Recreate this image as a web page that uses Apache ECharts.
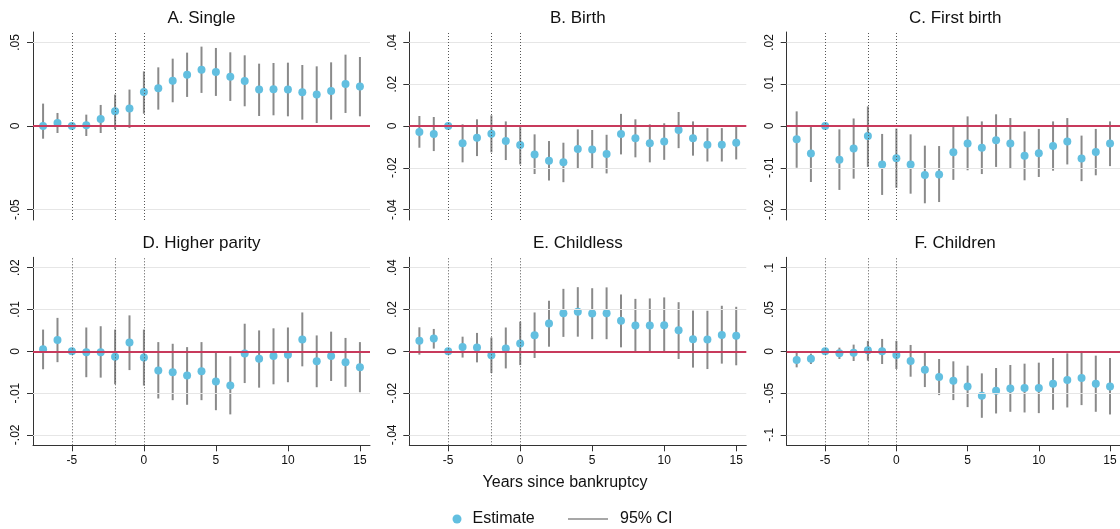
<!DOCTYPE html>
<html>
<head>
<meta charset="utf-8">
<script src="https://cdn.jsdelivr.net/npm/echarts@6/dist/echarts.min.js"></script>
<style>
html,body{margin:0;padding:0;background:#fff;}
#chart{width:1120px;height:529px;}
</style>
</head>
<body>
<div id="chart"></div>
<script>
const years = [-7,-6,-5,-4,-3,-2,-1,0,1,2,3,4,5,6,7,8,9,10,11,12,13,14,15];
const xTicks = [-5,0,5,10,15];
const eventLines = [-5,-2,0];

const singleEst = [0,0.0018,0,0.0004,0.0042,0.0088,0.0104,0.0204,0.0226,0.0271,0.0307,0.0337,0.0323,0.0295,0.0269,0.0218,0.022,0.0218,0.0202,0.0188,0.021,0.0251,0.0236];
const singleLo  = [-0.0076,-0.0042,null,-0.006,-0.0042,-0.002,-0.0012,0.0074,0.0098,0.0142,0.0174,0.0198,0.018,0.015,0.0118,0.006,0.0064,0.0058,0.0038,0.0018,0.0038,0.0078,0.0058];
const singleHi  = [0.0134,0.0078,null,0.0068,0.0126,0.0188,0.0218,0.0327,0.0351,0.0403,0.0439,0.0475,0.0467,0.0441,0.0423,0.0373,0.0377,0.0379,0.0365,0.0357,0.0381,0.0427,0.0413];

const birthEst = [-0.0029,-0.0038,0,-0.0083,-0.0056,-0.0037,-0.0072,-0.0091,-0.0136,-0.0166,-0.0174,-0.011,-0.0112,-0.0134,-0.0038,-0.0059,-0.0082,-0.0074,-0.0019,-0.0059,-0.009,-0.009,-0.008];
const birthLo  = [-0.0104,-0.012,null,-0.0174,-0.0144,-0.0126,-0.0163,-0.0184,-0.023,-0.0261,-0.0269,-0.0205,-0.0206,-0.0227,-0.0136,-0.015,-0.0174,-0.0162,-0.0106,-0.0142,-0.017,-0.017,-0.016];
const birthHi  = [0.0048,0.0043,null,0.0008,0.0032,0.0051,0.0022,0.0003,-0.004,-0.0072,-0.008,-0.0016,-0.0019,-0.0042,0.0058,0.0032,0.0008,0.0013,0.0067,0.0022,-0.001,-0.001,0];

const firstEst = [-0.0032,-0.0066,0,-0.0081,-0.0054,-0.0024,-0.0092,-0.0077,-0.0092,-0.0117,-0.0116,-0.0063,-0.0042,-0.0052,-0.0034,-0.0042,-0.0071,-0.0065,-0.0048,-0.0037,-0.0078,-0.0062,-0.0042];
const firstLo  = [-0.01,-0.0134,null,-0.0153,-0.0126,-0.0098,-0.0165,-0.0148,-0.0162,-0.0185,-0.0182,-0.0129,-0.0106,-0.0115,-0.0098,-0.0102,-0.013,-0.0122,-0.0107,-0.0092,-0.0132,-0.0118,-0.0096];
const firstHi  = [0.0035,0.0002,null,-0.0008,0.0018,0.0047,-0.0019,-0.0006,-0.002,-0.0047,-0.0048,0,0.0023,0.0011,0.0028,0.0019,-0.0013,-0.0007,0.0011,0.0019,-0.0023,-0.0007,0.0011];

const higherEst = [0.0005,0.0027,0,-0.0002,-0.0002,-0.0013,0.0021,-0.0015,-0.0046,-0.005,-0.0058,-0.0048,-0.0072,-0.0082,-0.0005,-0.0018,-0.0011,-0.0008,0.0028,-0.0024,-0.0011,-0.0026,-0.0038];
const higherLo  = [-0.0043,-0.0026,null,-0.0062,-0.0063,-0.0079,-0.0045,-0.0082,-0.0113,-0.0117,-0.0128,-0.0117,-0.0141,-0.0151,-0.0076,-0.0087,-0.0079,-0.0074,-0.0036,-0.0086,-0.0071,-0.0085,-0.0098];
const higherHi  = [0.0052,0.008,null,0.0057,0.006,0.0052,0.0086,0.0052,0.0022,0.0018,0.001,0.0022,-0.0002,-0.0012,0.0066,0.005,0.0055,0.0057,0.0093,0.0038,0.0047,0.0032,0.0022];

const childlessEst = [0.005,0.0061,0,0.0021,0.0018,-0.0019,0.0014,0.0037,0.0077,0.0133,0.0182,0.0189,0.0181,0.0182,0.0146,0.0123,0.0123,0.0125,0.0101,0.0058,0.0056,0.0078,0.0074];
const childlessLo  = [-0.0016,0.0013,null,-0.003,-0.0053,-0.0104,-0.0082,-0.0066,-0.0032,0.0022,0.0069,0.007,0.0058,0.0058,0.0019,-0.0005,-0.0006,-0.0006,-0.0037,-0.0078,-0.0085,-0.0059,-0.0067];
const childlessHi  = [0.0115,0.0107,null,0.007,0.0088,0.0066,0.0114,0.0142,0.0186,0.0242,0.0299,0.0307,0.0302,0.0306,0.0272,0.0251,0.0253,0.0258,0.0235,0.0195,0.0194,0.0218,0.0213];

const childrenEst = [-0.0104,-0.0088,0,-0.0024,-0.0016,0.0012,0,-0.0044,-0.0116,-0.022,-0.0308,-0.0352,-0.042,-0.0532,-0.0472,-0.0444,-0.044,-0.044,-0.0388,-0.0344,-0.032,-0.0388,-0.042];
const childrenLo  = [-0.0192,-0.0152,null,-0.0092,-0.0116,-0.0112,-0.0152,-0.0212,-0.0304,-0.0428,-0.0524,-0.0584,-0.0668,-0.0796,-0.0744,-0.0724,-0.0732,-0.074,-0.07,-0.0672,-0.0644,-0.0724,-0.0756];
const childrenHi  = [-0.002,-0.0028,null,0.0044,0.008,0.0124,0.0148,0.0124,0.0076,-0.0016,-0.0092,-0.012,-0.0172,-0.0264,-0.02,-0.0164,-0.0148,-0.0136,-0.008,-0.0024,0.0004,-0.0052,-0.008];

const ticksA = [-0.05,0,0.05];
const ticksB = [-0.04,-0.02,0,0.02,0.04];
const ticksC = [-0.02,-0.01,0,0.01,0.02];
const ticksF = [-0.1,-0.05,0,0.05,0.1];

const titles = ['A. Single','B. Birth','C. First birth','D. Higher parity','E. Childless','F. Children'];
const xTitle = 'Years since bankruptcy';

const panels = [
  {title:titles[0], est:singleEst, lo:singleLo, hi:singleHi, ticks:ticksA},
  {title:titles[1], est:birthEst, lo:birthLo, hi:birthHi, ticks:ticksB},
  {title:titles[2], est:firstEst, lo:firstLo, hi:firstHi, ticks:ticksC},
  {title:titles[3], est:higherEst, lo:higherLo, hi:higherHi, ticks:ticksC},
  {title:titles[4], est:childlessEst, lo:childlessLo, hi:childlessHi, ticks:ticksB},
  {title:titles[5], est:childrenEst, lo:childrenLo, hi:childrenHi, ticks:ticksF}
];

const FONT = '"Liberation Sans", Arial, Helvetica, sans-serif';
const colLeft = [33, 409.3, 786.7];
const rowTop = [32, 257.3];
const gW = 337, gH = 188;
const DOT = '#62bfe0', CI = '#8a8a8a', RED = '#c83a5c', AX = '#333';

function fmt(v){
  let s = String(+(+v).toFixed(4));
  return s.replace('0.', '.');
}

const grid = [], xAxis = [], yAxis = [], series = [], graphic = [];
panels.forEach((p, i) => {
  const r = Math.floor(i/3), c = i%3;
  const bottom = r === 1;
  const top = p.ticks[p.ticks.length-1];
  const lim = top * 1.125;
  grid.push({left: colLeft[c], top: rowTop[r], width: gW, height: gH});
  xAxis.push({
    type:'value', gridIndex:i, min:-7.7, max:15.7,
    axisLine:{show:bottom, onZero:false, lineStyle:{color:AX, width:1}},
    axisTick:{show:bottom, customValues:xTicks, length:6, lineStyle:{color:AX}},
    axisLabel:{show:bottom, customValues:xTicks, fontSize:12, color:'#111', fontFamily:FONT, margin:9},
    splitLine:{show:false}
  });
  yAxis.push({
    type:'value', gridIndex:i, min:-lim, max:lim,
    axisLine:{show:true, onZero:false, lineStyle:{color:AX, width:1}},
    axisTick:{show:true, customValues:p.ticks, length:6, lineStyle:{color:AX}},
    axisLabel:{show:true, customValues:p.ticks, rotate:90, fontSize:12, color:'#111', fontFamily:FONT, margin:11, formatter:fmt},
    splitLine:{show:false}
  });
  series.push({
    type:'custom', name:'95% CI', xAxisIndex:i, yAxisIndex:i, z:2,
    itemStyle:{color:CI},
    encode:{x:0, y:[1,2]},
    data: years.map((y,k)=>[y, p.lo[k], p.hi[k]]),
    renderItem: function(params, api){
      const lo = api.value(1), hi = api.value(2);
      if (lo === null || hi === null || isNaN(lo) || isNaN(hi)) return null;
      const a = api.coord([api.value(0), lo]);
      const b = api.coord([api.value(0), hi]);
      return {type:'line', shape:{x1:a[0], y1:a[1], x2:b[0], y2:b[1]}, style:{stroke:CI, lineWidth:2}};
    }
  });
  const mlData = [];
  p.ticks.forEach(t => { if (t !== 0) mlData.push({yAxis:t, lineStyle:{color:'#e6e6e6', width:1, type:'solid'}}); });
  eventLines.forEach(x => mlData.push({xAxis:x, lineStyle:{color:'#555', width:1, type:[1,2]}}));
  mlData.push({yAxis:0, lineStyle:{color:RED, width:2, type:'solid'}});
  series.push({
    type:'line', name:'ref'+i, xAxisIndex:i, yAxisIndex:i, data:[], z:3,
    markLine:{silent:true, symbol:['none','none'], label:{show:false}, animation:false, data:mlData}
  });
  series.push({
    type:'scatter', name:'Estimate', xAxisIndex:i, yAxisIndex:i, z:4,
    symbol:'circle', symbolSize:8, itemStyle:{color:DOT, opacity:1},
    data: years.map((y,k)=>[y, p.est[k]])
  });
  graphic.push({type:'text', x: colLeft[c] + gW/2, y: rowTop[r] - 13.5, style:{text:p.title, font:'17px '+FONT, fill:'#111', align:'center', verticalAlign:'middle'}});
});
graphic.push({type:'text', x:565, y:483, style:{text:xTitle, font:'16px '+FONT, fill:'#111', align:'center', verticalAlign:'middle'}});

const option = {
  animation:false,
  backgroundColor:'#fff',
  grid, xAxis, yAxis, series, graphic,
  legend:[
    {data:[{name:'Estimate', icon:'circle'}], selectedMode:false, padding:0, left:452.5, top:511, itemWidth:9, itemHeight:9,
     textStyle:{fontSize:16, color:'#111', fontFamily:FONT, padding:[0,0,0,6]}},
    {data:[{name:'95% CI', icon:'rect'}], selectedMode:false, padding:0, left:568, top:511, itemWidth:40, itemHeight:1.5,
     itemStyle:{color:CI}, textStyle:{fontSize:16, color:'#111', fontFamily:FONT, padding:[0,0,0,7]}}
  ]
};
const chart = echarts.init(document.getElementById('chart'), null, {renderer:'canvas'});
chart.setOption(option);
</script>
</body>
</html>
